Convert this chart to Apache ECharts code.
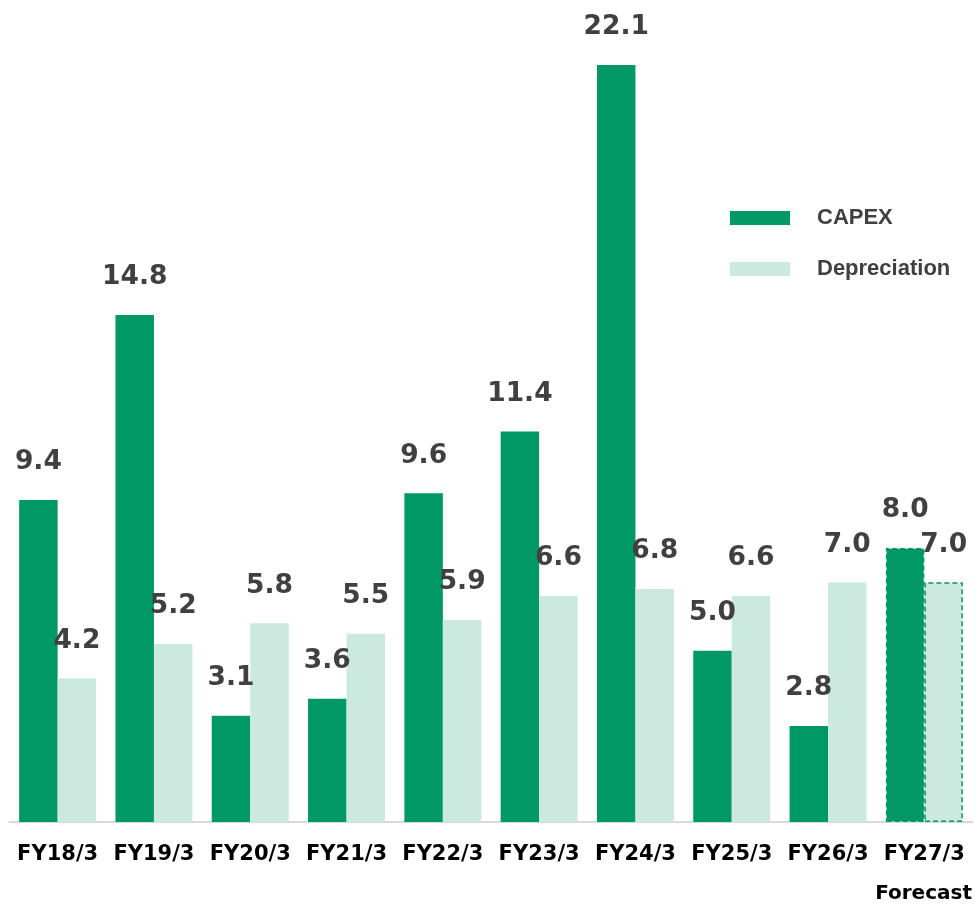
<!DOCTYPE html>
<html><head><meta charset="utf-8">
<script src="https://cdn.jsdelivr.net/npm/echarts@6/dist/echarts.min.js"></script>
<style>html,body{margin:0;padding:0;background:#fff}#c{width:975px;height:904px}</style>
</head><body><div id="c"></div>
<script>
const categories = ['FY18/3','FY19/3','FY20/3','FY21/3','FY22/3','FY23/3','FY24/3','FY25/3','FY26/3','FY27/3'];
const capex = [9.4, 14.8, 3.1, 3.6, 9.6, 11.4, 22.1, 5.0, 2.8, 8.0];
const depreciation = [4.2, 5.2, 5.8, 5.5, 5.9, 6.6, 6.8, 6.6, 7.0, 7.0];
const forecastIndex = 9;

const green = '#009966';
const mint = '#cce9df';

function mk(vals, color) {
  return vals.map((v, i) => {
    if (i === forecastIndex) {
      return { value: v, itemStyle: { color: color, borderColor: green, borderWidth: 1.5, borderType: [5, 3] } };
    }
    return { value: v };
  });
}

const labelCfg = {
  show: true, position: 'top', distance: 24,
  fontFamily: 'DejaVu Sans', fontWeight: 'bold', fontSize: 26.5, color: '#404040',
  formatter: p => p.value.toFixed(1)
};

const chart = echarts.init(document.getElementById('c'), null, { renderer: 'canvas' });
chart.setOption({
  animation: false,
  grid: { left: 9.5, right: 2.5, top: 0, bottom: 82, containLabel: false },
  legend: {
    orient: 'vertical', left: 725, top: 202, itemWidth: 60, itemHeight: 14, itemGap: 29,
    icon: 'rect',
    textStyle: { fontFamily: 'Liberation Sans', fontWeight: 'bold', fontSize: 22, color: '#404040', padding: [0, 0, 0, 22] },
    data: ['CAPEX', 'Depreciation']
  },
  xAxis: {
    type: 'category', data: categories,
    axisLine: { show: true, lineStyle: { color: '#d9d9d9', width: 2 } },
    axisTick: { show: false },
    axisLabel: { interval: 0, hideOverlap: false, margin: 22, fontFamily: 'DejaVu Sans', fontWeight: 'bold', fontSize: 21, color: '#000' }
  },
  yAxis: { type: 'value', min: 0, max: 24, show: false, splitLine: { show: false } },
  series: [
    { name: 'CAPEX', type: 'bar', data: mk(capex, green), itemStyle: { color: green }, barWidth: 38.5, barGap: '0%', label: labelCfg },
    { name: 'Depreciation', type: 'bar', data: mk(depreciation, mint), itemStyle: { color: mint }, barWidth: 38.5, label: labelCfg }
  ],
  graphic: [
    { type: 'text', right: 3, top: 884, style: { text: 'Forecast', fontFamily: 'DejaVu Sans', fontWeight: 'bold', fontSize: 20, fill: '#000' } }
  ]
});
</script></body></html>
